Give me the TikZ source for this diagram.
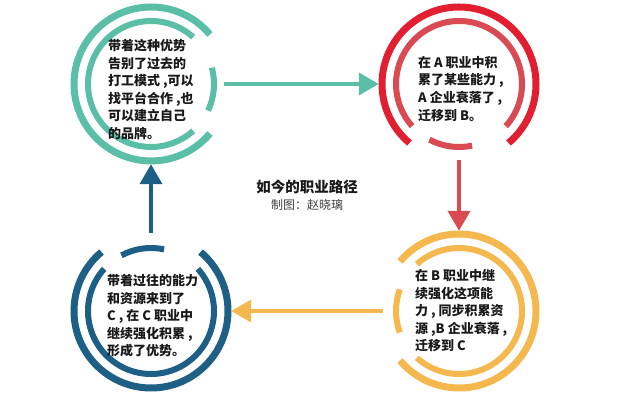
\documentclass[tikz,border=0pt]{standalone}
\usepackage{fontspec}
\setmainfont{Noto Sans CJK SC}
\usetikzlibrary{arrows.meta}
\definecolor{cteal}{HTML}{5BBFA8}
\definecolor{credo}{HTML}{E21F30}
\definecolor{credi}{HTML}{DA4A52}
\definecolor{cyel}{HTML}{F4B84E}
\definecolor{cblue}{HTML}{1E5F85}
\newcommand\ringpair[5]{%
 \draw[outerring,#3] ([shift={({#2+40}:77pt)}]#1) arc[start angle={#2+40}, end angle={#2+320}, radius=77pt];
 \draw[innerring,#4] ([shift={({#2+48}:63pt)}]#1) arc[start angle={#2+48}, end angle={#2+312}, radius=63pt];
 \draw[innerring,#4] ([shift={({#2+#5-20}:63pt)}]#1) arc[start angle={#2+#5-20}, end angle={#2+#5+20}, radius=63pt];
}
\begin{document}
\begin{tikzpicture}[x=1pt,y=1pt,
  hub/.style={circle, minimum size=160pt, inner sep=0pt},
  outerring/.style={line width=7pt},
  innerring/.style={line width=6pt},
  body/.style={anchor=north west, align=left, font=\fontsize{13}{17.6}\selectfont\bfseries, text=black!90, inner sep=0pt},
  flow/.style={line width=4pt, -{Triangle[length=20pt,width=22pt]}}]
\useasboundingbox (0,0) rectangle (640,417);
\node[hub] (cA) at (151,333) {};
\node[hub] (cB) at (459,333) {};
\node[hub] (cC) at (459,106) {};
\node[hub] (cD) at (151,106) {};
\ringpair{cA.center}{0}{cteal}{cteal}{-5}
\ringpair{cB.center}{270}{credo}{credi}{-8}
\ringpair{cC.center}{180}{cyel}{cyel}{0}
\ringpair{cD.center}{90}{cblue}{cblue}{8}
\node[body] (tA) at (108,378) {带着这种优势\\告别了过去的\\打工模式 ,可以\\找平台合作 ,也\\可以建立自己\\的品牌。};
\node[body] (tB) at (418,361) {在 A 职业中积\\累了某些能力 ,\\A 企业衰落了 ,\\迁移到 B。};
\node[body] (tC) at (415,148) {在 B 职业中继\\续强化这项能\\力 , 同步积累资\\源 ,B 企业衰落 ,\\迁移到 C};
\node[body] (tD) at (107,143) {带着过往的能力\\和资源来到了\\C , 在 C 职业中\\继续强化积累 ,\\形成了优势。};
\node[font=\fontsize{14.5}{16}\selectfont\bfseries, text=black!90] (title) at (307,230) {如今的职业路径};
\node[font=\fontsize{12}{13}\selectfont, text=black!75] (credit) at (307,212) {制图：赵晓璃};
\draw[flow, cteal, shorten <=-7pt] (cA.east) -- (cB.west);
\draw[flow, credi, shorten <=-4pt] (cB.south) -- (cC.north);
\draw[flow, cyel, shorten <=-4pt] (cC.west) -- (cD.east);
\draw[flow, cblue, shorten <=-2pt] (cD.north) -- (cA.south);
\end{tikzpicture}
\end{document}
